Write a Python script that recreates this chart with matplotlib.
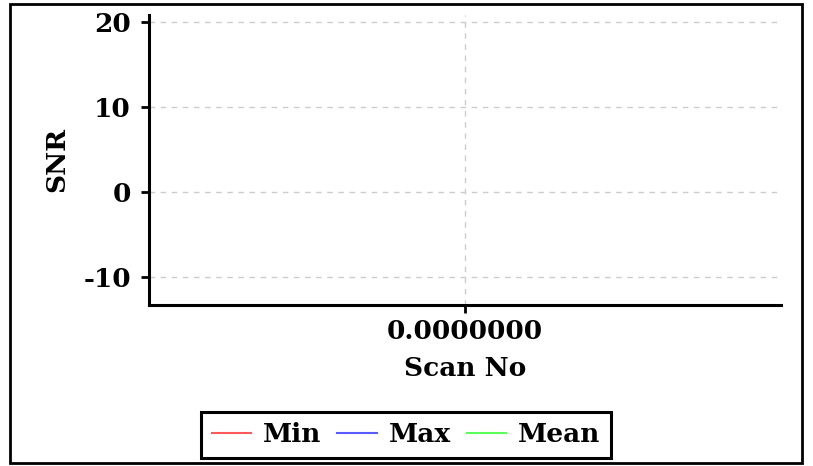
import numpy as np
import matplotlib.pyplot as plt
from matplotlib.patches import Rectangle

scan_no = []
snr_min = []
snr_max = []
snr_mean = []
x_ticks = [0.0]
y_ticks = [-10, 0, 10, 20]

plt.rcParams['font.family'] = 'DejaVu Serif'
plt.rcParams['font.weight'] = 'bold'
plt.rcParams['axes.unicode_minus'] = False

fig = plt.figure(figsize=(8.13, 4.66), dpi=100)
ax = fig.add_axes([149/813, 1 - 305/466, (781-149)/813, (305-15)/466])

ax.plot(scan_no, snr_min, color='#ff5a5a', lw=1.5, label='Min')
ax.plot(scan_no, snr_max, color='#5a5aff', lw=1.5, label='Max')
ax.plot(scan_no, snr_mean, color='#5aff5a', lw=1.5, label='Mean')

ax.set_xlim(-1, 1)
ax.set_ylim(-13.3, 20.8)
ax.set_xticks(x_ticks)
ax.set_xticklabels(['%.7f' % v for v in x_ticks])
ax.set_yticks(y_ticks)
ax.set_yticklabels([str(v) for v in y_ticks])
ax.grid(True, ls=(0, (4, 4)), color='#cccccc', lw=1)

for s in ['top', 'right']:
    ax.spines[s].set_visible(False)
for s in ['left', 'bottom']:
    ax.spines[s].set_linewidth(2.2)
ax.tick_params(axis='y', length=6, width=2, labelsize=19, pad=7)
ax.tick_params(axis='x', length=6, width=2, labelsize=19, pad=4)
for t in ax.get_xticklabels() + ax.get_yticklabels():
    t.set_fontweight('bold')

ax.set_xlabel('Scan No', fontsize=19, fontweight='bold', labelpad=9)
ax.set_ylabel('SNR', fontsize=19, fontweight='bold', labelpad=10)

leg = fig.legend(loc='center', bbox_to_anchor=(406/813, 1 - 435/466), ncol=3,
                 frameon=True, fancybox=False, framealpha=1, handlelength=1.5,
                 columnspacing=0.6, handletextpad=0.45, borderpad=0.4,
                 borderaxespad=0, prop={'weight': 'bold', 'size': 19})
leg.get_frame().set_edgecolor('black')
leg.get_frame().set_linewidth(2.2)

fig.patches.append(Rectangle((10/813, 3/466), (802-10)/813, (463-4)/466,
                             transform=fig.transFigure, fill=False,
                             edgecolor='black', lw=2))

fig.savefig('out.png', dpi=100)
